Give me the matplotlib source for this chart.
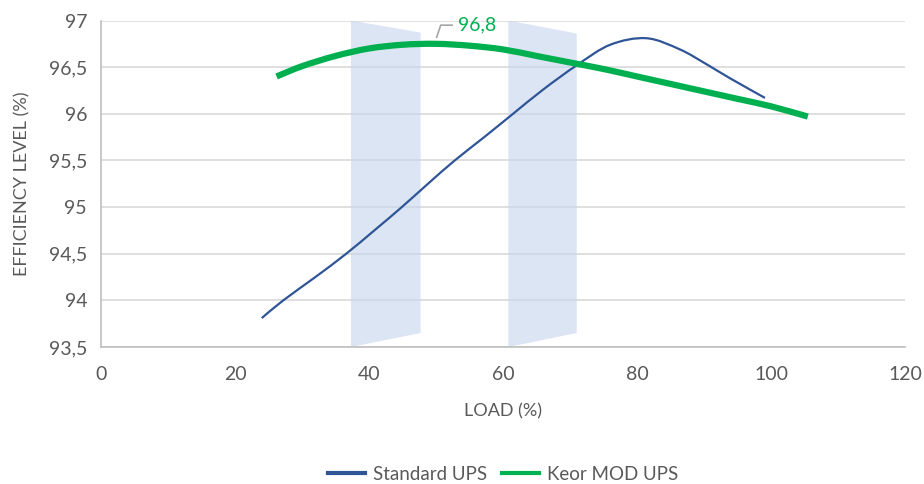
import numpy as np
import matplotlib.pyplot as plt
from matplotlib.path import Path
from matplotlib.patches import PathPatch
from matplotlib.lines import Line2D
from matplotlib.ticker import FuncFormatter

plt.rcParams['font.family'] = ['Lato', 'DejaVu Sans']

# data
std_load = [24.0, 27.2, 32, 36.6, 40.8, 44.9, 48.8, 52.8, 57.2, 61.5, 66, 71.0, 76.0, 81.4,
            86.4, 90.4, 93.9, 99.1]
std_eff = [93.81, 94.0, 94.25, 94.5, 94.75, 95.0, 95.25, 95.5, 95.75, 96.0, 96.26, 96.52, 96.74, 96.81,
           96.69, 96.53, 96.38, 96.17]

keor_load = [26.2, 30, 35, 40, 45, 50, 55, 60, 65, 70, 75, 80, 85, 90, 95, 100, 105.5]
keor_eff = [96.40, 96.51, 96.62, 96.70, 96.74, 96.75, 96.73, 96.69, 96.62, 96.55, 96.48, 96.40, 96.32,
            96.24, 96.16, 96.08, 95.97]

# shaded load bands (x left, x right, top left, top right, bottom left, bottom right)
bands = [(37.3, 47.7, 97.0, 96.87, 93.5, 93.65),
         (60.8, 71.0, 97.0, 96.86, 93.5, 93.65)]

peak_label = '96,8'
grey = '#595959'
blue = '#2F5597'
green = '#00B050'


def smooth_path(xs, ys):
    # excel-like smoothed line: catmull-rom segments as cubic beziers
    p = np.column_stack([xs, ys])
    verts = [p[0]]
    codes = [Path.MOVETO]
    n = len(p)
    for i in range(n - 1):
        p0 = p[i - 1] if i > 0 else p[i]
        p3 = p[i + 2] if i + 2 < n else p[i + 1]
        c1 = p[i] + (p[i + 1] - p0) / 6
        c2 = p[i + 1] - (p3 - p[i]) / 6
        verts += [c1, c2, p[i + 1]]
        codes += [Path.CURVE4] * 3
    return Path(verts, codes)


fig = plt.figure(figsize=(9.24, 4.84), dpi=100)
ax = fig.add_axes([101 / 924, 1 - 347 / 484, 804 / 924, 326.5 / 484])

for x0, x1, t0, t1, b0, b1 in bands:
    ax.fill([x0, x1, x1, x0], [b0, b1, t1, t0], color='#C9D7EE', alpha=0.65, lw=0, zorder=2)

ax.add_patch(PathPatch(smooth_path(std_load, std_eff), fill=False, edgecolor=blue, lw=1.6,
                       capstyle='butt', zorder=3))
ax.add_patch(PathPatch(smooth_path(keor_load, keor_eff), fill=False, edgecolor=green, lw=4.5,
                       capstyle='butt', zorder=3))

# data label with leader line
ax.plot([50.1, 50.7, 52.4], [96.82, 96.95, 96.95], color='#A6A6A6', lw=1.2, zorder=4)
ax.text(53.3, 96.955, peak_label, color=green, fontsize=14, va='center', ha='left')

ax.set_xlim(0, 120)
ax.set_ylim(93.5, 97)
ax.set_xticks(range(0, 121, 20))
ax.set_yticks([93.5, 94, 94.5, 95, 95.5, 96, 96.5, 97])
ax.yaxis.set_major_formatter(FuncFormatter(lambda v, p: ('%g' % v).replace('.', ',')))
ax.grid(axis='y', color='#D9D9D9', lw=1.2, zorder=0)
ax.set_axisbelow(True)
ax.tick_params(length=0, labelsize=14, colors=grey, pad=10)
ax.tick_params(axis='x', pad=14)

for s in ['top', 'right']:
    ax.spines[s].set_visible(False)
for s in ['left', 'bottom']:
    ax.spines[s].set_color('#BFBFBF')
    ax.spines[s].set_linewidth(1.2)

ax.set_xlabel('LOAD (%)', fontsize=13, color=grey, labelpad=14)
ax.set_ylabel('EFFICIENCY LEVEL (%)', fontsize=13, color=grey, labelpad=13)

handles = [Line2D([], [], color=blue, lw=3), Line2D([], [], color=green, lw=3)]
leg = ax.legend(handles, ['Standard UPS', 'Keor MOD UPS'], loc='center', bbox_to_anchor=(0.5, -0.39),
                ncol=2, frameon=False, fontsize=13.5, handlelength=2.0, handletextpad=0.4,
                columnspacing=0.8)
for t in leg.get_texts():
    t.set_color(grey)

fig.savefig('out.png', dpi=100)
